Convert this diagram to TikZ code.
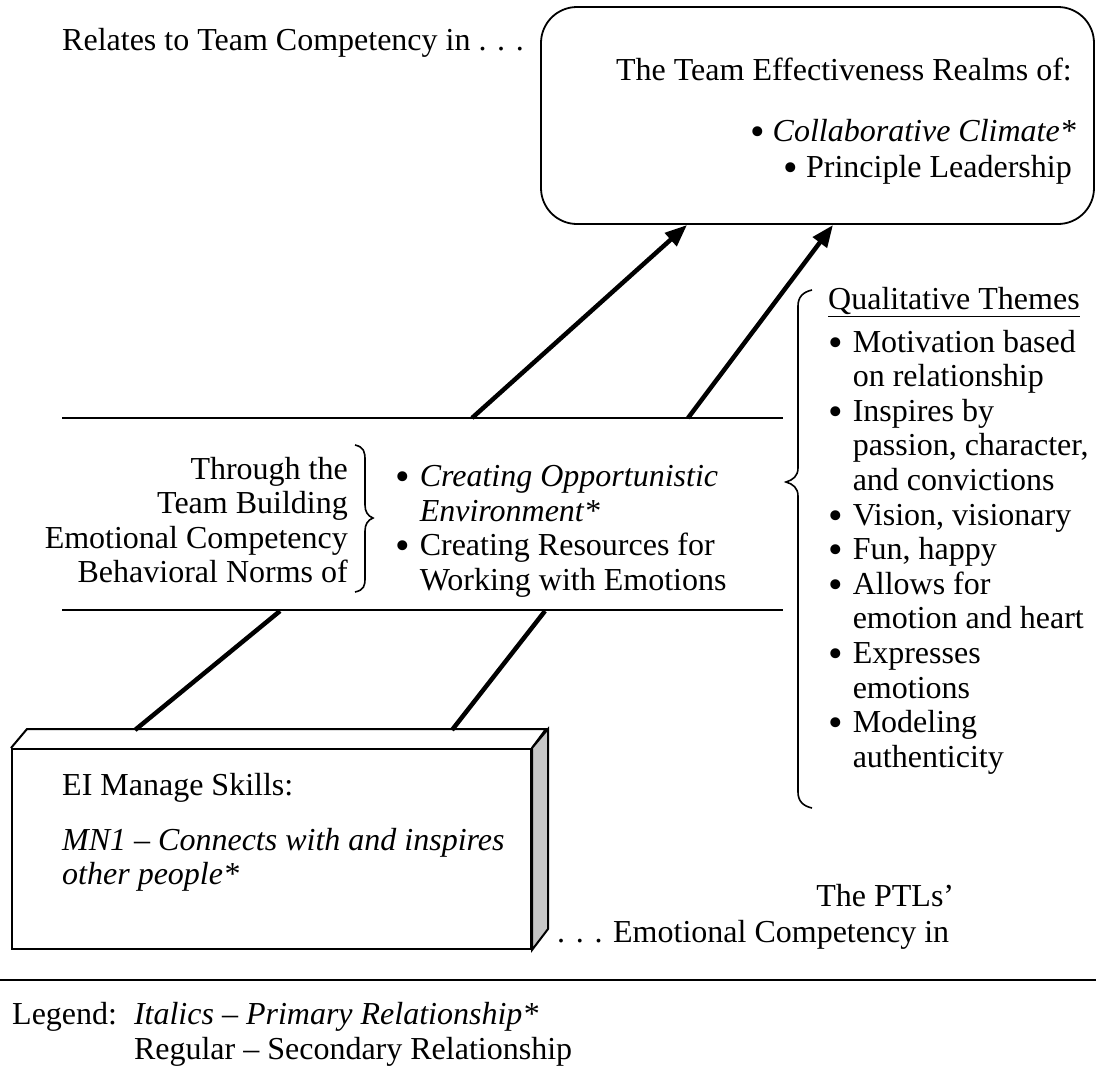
\documentclass[tikz,border=0pt]{standalone}
\usepackage{fontspec}
\setmainfont{Liberation Serif}
\usetikzlibrary{positioning, arrows.meta}
\newcommand{\bul}{\smash{\raisebox{-0.13em}{\scalebox{1.3}{\textbullet}}}}

\begin{document}
\begin{tikzpicture}[x=1pt, y=-1pt,
    every node/.style={font=\fontsize{32}{34.6}\selectfont, inner sep=0pt},
    band/.style={line width=2.5pt},
    link/.style={line width=4.5pt},
    uplink/.style={line width=4.5pt, -{Triangle[length=22pt, width=17pt]}},
    bracepath/.style={line width=1.6pt}]
  \useasboundingbox (0,0) rectangle (1096,1069);

  % top: the realms box
  \node[anchor=base west] (relates) at (62,50) {Relates to Team Competency in . . .};
  \node[draw, line width=1.8pt, rounded corners=36pt, minimum width=553pt, minimum height=217pt] (realms) at (817.5,115.5) {};
  \node[anchor=base east] (realmshead) at (1072,80) {The Team Effectiveness Realms of:};
  \node[anchor=base east] (realm1) at (1076,141) {\bul\ \textit{Collaborative Climate*}};
  \node[anchor=base east] (realm2) at (1072,177) {\bul\ Principle Leadership};

  % middle band with the norms
  \coordinate (bandtl) at (62,418);
  \coordinate (bandtr) at (783,418);
  \coordinate (bandbl) at (62,610);
  \coordinate (bandbr) at (783,610);
  \draw[band] (bandtl) -- (bandtr);
  \draw[band] (bandbl) -- (bandbr);

  \node[anchor=east, align=right] (through) at (348,520)
    {Through the\\Team Building\\Emotional Competency\\Behavioral Norms of};
  \draw[bracepath] (355,445) .. controls (364,447) and (365,452) .. (365,460)
    -- (365,505) .. controls (365,512) and (368,516) .. (373,518)
    .. controls (368,520) and (365,524) .. (365,531)
    -- (365,578) .. controls (365,586) and (364,590) .. (355,592);
  \node[anchor=north west] (norms) at (395,462) {%
    \begin{tabular}{@{}l@{\hspace{10pt}}l@{}}
      \bul & \textit{Creating Opportunistic}\\
           & \textit{Environment*}\\
      \bul & Creating Resources for\\
           & Working with Emotions
    \end{tabular}};

  % arrows up to the realms
  \coordinate (up1) at (472,418);
  \coordinate (up2) at (688,418);
  \coordinate (tip1) at (687,225);
  \coordinate (tip2) at (833,225);
  \draw[uplink] (up1) -- (tip1);
  \draw[uplink] (up2) -- (tip2);

  % qualitative themes
  \draw[bracepath] (812,290) .. controls (803,292) and (798,297) .. (798,306)
    -- (798,468) .. controls (798,476) and (793,480) .. (786,482)
    .. controls (793,484) and (798,488) .. (798,496)
    -- (798,792) .. controls (798,801) and (803,806) .. (812,808);
  \node[anchor=north west] (themes) at (828,285) {%
    \begin{tabular}{@{}l@{\hspace{10pt}}l@{}}
      \multicolumn{2}{@{}l@{}}{\underline{Qualitative Themes}}\\[8pt]
      \bul & Motivation based\\
           & on relationship\\
      \bul & Inspires by\\
           & passion, character,\\
           & and convictions\\
      \bul & Vision, visionary\\
      \bul & Fun, happy\\
      \bul & Allows for\\
           & emotion and heart\\
      \bul & Expresses\\
           & emotions\\
      \bul & Modeling\\
           & authenticity
    \end{tabular}};

  % skills box
  \node[draw, line width=2pt, minimum width=519pt, minimum height=200pt] (skills) at (271.5,849) {};
  \draw[line width=2pt] (skills.north west) -- ++(16,-19) -- ++(519,0) -- (skills.north east);
  \draw[line width=2pt, fill=gray!45] (skills.north east) -- ++(16,-19) -- ++(0,200) -- (skills.south east) -- cycle;
  \node[anchor=base west] (skillshead) at (62,795) {EI Manage Skills:};
  \node[anchor=base west] (mn1a) at (62,850) {\textit{MN1 -- Connects with and inspires}};
  \node[anchor=base west] (mn1b) at (62,884) {\textit{other people*}};

  \coordinate (dn1) at (135,730);
  \coordinate (dn2) at (452,730);
  \coordinate (bandl1) at (280,611);
  \coordinate (bandl2) at (545,611);
  \draw[link] (dn1) -- (bandl1);
  \draw[link] (dn2) -- (bandl2);

  \node[anchor=base west] (ptlsin) at (557,942) {. . . Emotional Competency in};
  \node[anchor=base east] (ptls) at ([xshift=5pt]ptlsin.east |- 0,906) {The PTLs'};

  % legend
  \coordinate (rulel) at (0,980);
  \coordinate (ruler) at (1096,980);
  \draw[band] (rulel) -- (ruler);
  \node[anchor=north west] (legend) at (12,1000) {%
    \begin{tabular}{@{}l@{\hspace{17pt}}l@{}}
      Legend: & \textit{Italics -- Primary Relationship*}\\
              & Regular -- Secondary Relationship
    \end{tabular}};
\end{tikzpicture}
\end{document}
